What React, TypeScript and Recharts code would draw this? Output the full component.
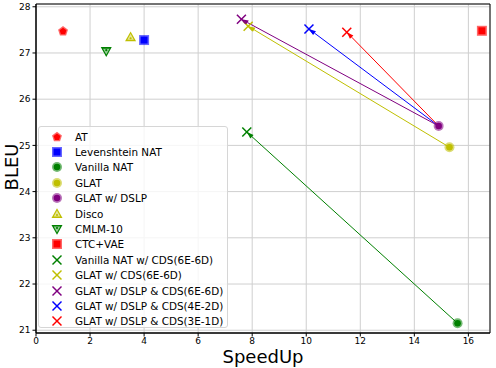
import React from "react";
import { ScatterChart, Scatter, XAxis, YAxis, CartesianGrid, ReferenceLine, ReferenceArea } from "recharts";

// base systems
const baseNames = ["AT", "Levenshtein NAT", "Vanilla NAT", "GLAT", "GLAT w/ DSLP", "Disco", "CMLM-10", "CTC+VAE"];
const baseSpeedup = [1.0, 4.0, 15.6, 15.3, 14.9, 3.5, 2.6, 16.5];
const baseBleu = [27.47, 27.28, 21.15, 24.96, 25.42, 27.34, 27.04, 27.48];
const baseColors = ["#ff0000", "#0000ff", "#008000", "#bfbf00", "#800080", "#bfbf00", "#008000", "#ff0000"];
const baseMarkers = ["pentagon", "square", "circle", "circle", "circle", "triUp", "triDown", "square"];

// CDS variants, each starting from a base system
const cdsNames = [
  "Vanilla NAT w/ CDS(6E-6D)",
  "GLAT w/ CDS(6E-6D)",
  "GLAT w/ DSLP & CDS(6E-6D)",
  "GLAT w/ DSLP & CDS(4E-2D)",
  "GLAT w/ DSLP & CDS(3E-1D)",
];
const cdsSpeedup = [7.8, 7.85, 7.6, 10.1, 11.5];
const cdsBleu = [25.29, 27.58, 27.73, 27.52, 27.45];
const cdsColors = ["#008000", "#bfbf00", "#800080", "#0000ff", "#ff0000"];
const cdsFrom = [2, 3, 4, 4, 4];

const xTicks = [0, 2, 4, 6, 8, 10, 12, 14, 16];
const yTicks = [21, 22, 23, 24, 25, 26, 27, 28];

const FONT = "DejaVu Sans, sans-serif";

function Marker({ kind, color, cx, cy }: { kind: string; color: string; cx: number; cy: number }) {
  if (kind === "circle") {
    return (
      <g>
        <circle cx={cx} cy={cy} r={5} fill={color} fillOpacity={0.55} />
        <circle cx={cx} cy={cy} r={3.3} fill={color} />
      </g>
    );
  }
  if (kind === "square") {
    return (
      <g>
        <rect x={cx - 5} y={cy - 5} width={10} height={10} fill={color} fillOpacity={0.6} />
        <rect x={cx - 3.5} y={cy - 3.5} width={7} height={7} fill={color} />
      </g>
    );
  }
  if (kind === "pentagon") {
    const pts = (r: number) =>
      [0, 1, 2, 3, 4]
        .map((i) => {
          const a = -Math.PI / 2 + (i * 2 * Math.PI) / 5;
          return `${cx + r * Math.cos(a)},${cy + r * Math.sin(a)}`;
        })
        .join(" ");
    return (
      <g>
        <polygon points={pts(5.2)} fill={color} fillOpacity={0.6} />
        <polygon points={pts(3.6)} fill={color} />
      </g>
    );
  }
  if (kind === "triUp" || kind === "triDown") {
    const s = kind === "triUp" ? 1 : -1;
    const tri = (r: number) =>
      `${cx},${cy - s * r} ${cx - r * 0.95},${cy + s * r * 0.7} ${cx + r * 0.95},${cy + s * r * 0.7}`;
    return (
      <g>
        <polygon points={tri(5.8)} fill={color} />
        <polygon points={tri(3.4)} fill="#ffffff" fillOpacity={0.6} />
        <circle cx={cx} cy={cy + s * 1} r={1.1} fill={color} />
      </g>
    );
  }
  // x
  return (
    <g stroke={color} strokeWidth={1.5}>
      <line x1={cx - 4.5} y1={cy - 4.5} x2={cx + 4.5} y2={cy + 4.5} />
      <line x1={cx - 4.5} y1={cy + 4.5} x2={cx + 4.5} y2={cy - 4.5} />
    </g>
  );
}

function Arrow(props: any) {
  const { x1, y1, x2, y2, color } = props;
  const dx = x2 - x1;
  const dy = y2 - y1;
  const len = Math.sqrt(dx * dx + dy * dy) || 1;
  const ux = dx / len;
  const uy = dy / len;
  const hl = 7;
  const hw = 2.4;
  const bx = x2 - ux * hl;
  const by = y2 - uy * hl;
  return (
    <g>
      <line x1={x1} y1={y1} x2={bx} y2={by} stroke={color} strokeWidth={1} />
      <polygon
        points={`${x2},${y2} ${bx - uy * hw},${by + ux * hw} ${bx + uy * hw},${by - ux * hw}`}
        fill={color}
      />
    </g>
  );
}

const legendItems = [
  ...baseNames.map((n, i) => ({ name: n, color: baseColors[i], kind: baseMarkers[i] })),
  ...cdsNames.map((n, i) => ({ name: n, color: cdsColors[i], kind: "x" })),
];

function LegendBox() {
  return (
    <div
      style={{
        position: "absolute",
        left: 38,
        top: 126,
        width: 190,
        height: 202,
        boxSizing: "border-box",
        background: "rgba(255,255,255,0.8)",
        border: "1px solid #d6d6d6",
        borderRadius: 3,
        paddingTop: 2,
        fontFamily: FONT,
        fontSize: 10.4,
        color: "#000",
      }}
    >
      {legendItems.map((it) => (
        <div key={it.name} style={{ display: "flex", alignItems: "center", height: 15.4 }}>
          <svg width={14} height={14} style={{ marginLeft: 11, marginRight: 11, flexShrink: 0 }}>
            <Marker kind={it.kind} color={it.color} cx={7} cy={7} />
          </svg>
          <span style={{ whiteSpace: "nowrap" }}>{it.name}</span>
        </div>
      ))}
    </div>
  );
}

export default function App() {
  return (
    <div style={{ position: "absolute", left: 0, top: 0, width: 496, height: 368, background: "#fff" }}>
      <ScatterChart width={496} height={368} margin={{ top: 4, right: 6, bottom: 0, left: 12 }}>
        <CartesianGrid stroke="#cfcfcf" strokeWidth={1} />
        <XAxis
          type="number"
          dataKey="x"
          domain={[0, 16.8]}
          ticks={xTicks}
          allowDataOverflow
          height={35}
          tickSize={3.5}
          tickMargin={1}
          tick={{ fontSize: 9, fill: "#000", fontFamily: FONT }}
          axisLine={{ stroke: "#000" }}
          tickLine={{ stroke: "#000" }}
          label={{ value: "SpeedUp", position: "insideBottom", offset: 5, fontSize: 18, fill: "#000", fontFamily: FONT }}
        />
        <YAxis
          type="number"
          dataKey="y"
          domain={[20.94, 28.06]}
          ticks={yTicks}
          allowDataOverflow
          width={24}
          tickSize={3.5}
          tickMargin={2}
          tick={{ fontSize: 9, fill: "#000", fontFamily: FONT }}
          axisLine={{ stroke: "#000" }}
          tickLine={{ stroke: "#000" }}
          label={{
            content: () => (
              <text
                x={18}
                y={167}
                transform="rotate(-90 18 167)"
                textAnchor="middle"
                fontSize={18}
                fontFamily={FONT}
                fill="#000"
              >
                BLEU
              </text>
            ),
          }}
        />
        <ReferenceArea x1={0} x2={16.8} y1={20.94} y2={28.06} fill="none" stroke="#000" strokeWidth={1} />
        {cdsNames.map((n, i) => (
          <ReferenceLine
            key={"arrow" + n}
            segment={[
              { x: baseSpeedup[cdsFrom[i]], y: baseBleu[cdsFrom[i]] },
              { x: cdsSpeedup[i], y: cdsBleu[i] },
            ]}
            shape={(p: any) => <Arrow {...p} color={cdsColors[i]} />}
          />
        ))}
        {baseNames.map((n, i) => (
          <Scatter
            key={n}
            name={n}
            data={[{ x: baseSpeedup[i], y: baseBleu[i] }]}
            isAnimationActive={false}
            shape={(p: any) => <Marker kind={baseMarkers[i]} color={baseColors[i]} cx={p.cx} cy={p.cy} />}
          />
        ))}
        {cdsNames.map((n, i) => (
          <Scatter
            key={n}
            name={n}
            data={[{ x: cdsSpeedup[i], y: cdsBleu[i] }]}
            isAnimationActive={false}
            shape={(p: any) => <Marker kind="x" color={cdsColors[i]} cx={p.cx} cy={p.cy} />}
          />
        ))}
      </ScatterChart>
      <LegendBox />
    </div>
  );
}
